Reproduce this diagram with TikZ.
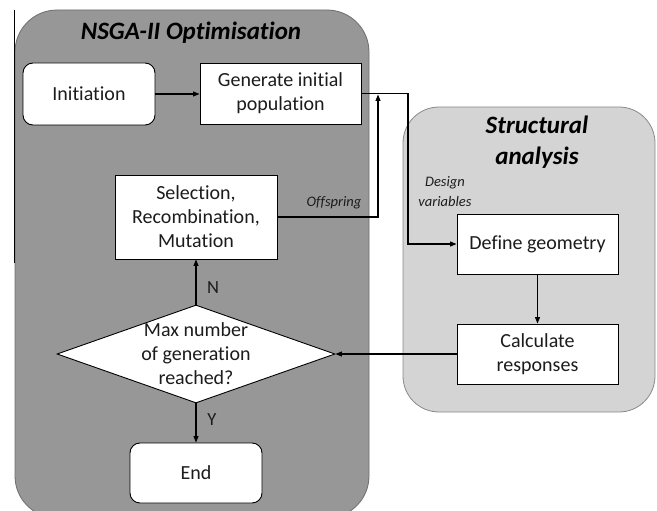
\documentclass[tikz,border=0pt]{standalone}
\usepackage{fontspec}
\setmainfont{Carlito}[Ligatures=NoCommon]
\usetikzlibrary{arrows.meta,shapes.geometric}
\definecolor{panelA}{HTML}{979797}
\definecolor{panelAline}{HTML}{6E6E6E}
\definecolor{panelB}{HTML}{D4D4D4}
\definecolor{panelBline}{HTML}{8A8A8A}
\definecolor{ink}{HTML}{1C1C1C}
\begin{document}
\begin{tikzpicture}[x=1pt,y=-1pt,
  box/.style={draw=black,line width=0.9pt,fill=white,inner sep=0pt,
    align=center,font=\fontsize{20}{24}\selectfont,text=ink},
  rbox/.style={box,rounded corners=10pt},
  conn/.style={line width=1.1pt,draw=black},
  arr/.style={conn,-{Triangle[length=6.5pt,width=5pt]}},
  heading/.style={font=\fontsize{25}{31}\selectfont\bfseries\itshape,text=black,align=center},
  note/.style={font=\fontsize{14.5}{20}\selectfont\itshape,text=ink,align=center},
  yn/.style={font=\fontsize{18.5}{22}\selectfont,text=ink}]
\useasboundingbox (0,0) rectangle (657,511);
\clip (0,0) rectangle (657,511);

% panels
\draw[fill=panelA,draw=panelAline,line width=0.8pt,rounded corners=42pt]
  (15,10) rectangle (369,518);
\draw[fill=panelB,draw=panelBline,line width=0.8pt,rounded corners=36pt]
  (403,107) rectangle (655,412);
\draw[line width=1pt] (14,10) -- (14,263);

\node[heading] (t1) at (191,33) {NSGA-II Optimisation};
\node[heading] (t2) at (537,142) {Structural\\analysis};

% NSGA-II steps
\node[rbox,minimum width=132pt,minimum height=62pt] (init) at (89,94) {Initiation};
\node[box,minimum width=161pt,minimum height=61pt] (gen) at (280.5,93.5) {Generate initial\\population};
\node[box,minimum width=162pt,minimum height=84pt] (sel) at (196,217) {Selection,\\Recombination,\\Mutation};
\node[diamond,draw=black,line width=0.9pt,fill=white,inner sep=0pt,
  minimum width=278pt,minimum height=98pt] (dec) at (196,354) {};
\node[align=center,font=\fontsize{20}{24}\selectfont,text=ink] (dectext) at (196,354)
  {Max number\\of generation\\reached?};
\node[rbox,minimum width=132pt,minimum height=60pt] (endn) at (196,473) {End};

% structural analysis steps
\node[box,minimum width=161pt,minimum height=60pt] (geo) at (537.5,244) {Define geometry};
\node[box,minimum width=161pt,minimum height=60pt] (calc) at (537.5,354) {Calculate\\responses};

% junction columns
\coordinate (jd) at (408,93);
\coordinate (jo) at (378,218);

% connectors
\draw[arr] (init.east) -- (init.east -| gen.west);
\draw[arr] (gen.east) -- (gen.east -| jd) |- (geo.west);
\draw[arr] (sel.east) -- (sel.east -| jo) -- ([yshift=-1pt]jo |- gen.east);
\draw[arr] (geo.south) -- (calc.north);
\draw[arr] (calc.west) -- (dec.east);
\draw[arr] (dec.north) -- (sel.south);
\draw[arr] (dec.south) -- (endn.north);

% labels
\node[yn] (nlab) at (213,288) {N};
\node[yn] (ylab) at (212,420) {Y};
\node[note] (off) at (334,203) {Offspring};
\node[note] (dv) at (445,192) {Design\\variables};
\end{tikzpicture}
\end{document}
